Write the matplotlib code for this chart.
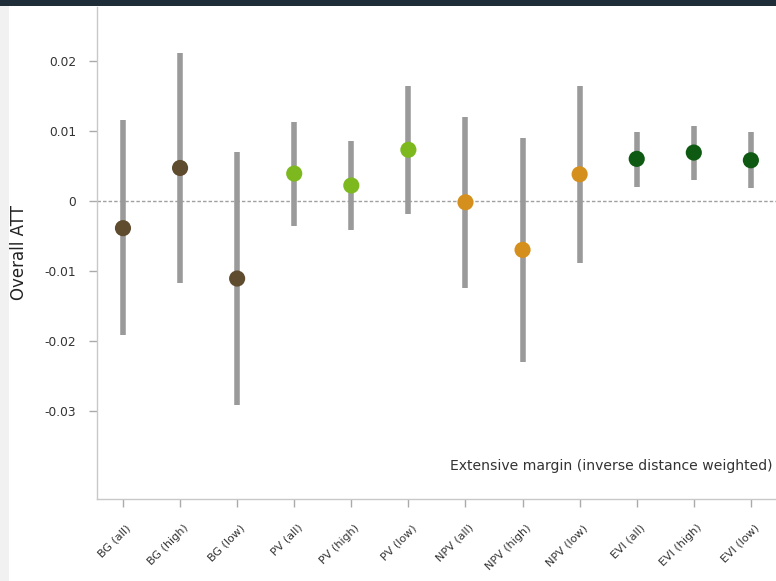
import matplotlib
matplotlib.use("Agg")
import matplotlib.pyplot as plt
import matplotlib.transforms as mtransforms
from matplotlib.patches import Rectangle

plt.rcParams["font.family"] = ["DejaVu Sans"]

categories = ["BG (all)", "BG (high)", "BG (low)",
              "PV (all)", "PV (high)", "PV (low)",
              "NPV (all)", "NPV (high)", "NPV (low)",
              "EVI (all)", "EVI (high)", "EVI (low)"]
estimates = [-0.0039, 0.0047, -0.0111,
             0.0039, 0.0022, 0.0073,
             -0.0002, -0.0070, 0.0038,
             0.0060, 0.0069, 0.0058]
ci_low = [-0.0191, -0.0117, -0.0291,
          -0.0036, -0.0041, -0.0019,
          -0.0125, -0.0230, -0.0089,
          0.0020, 0.0030, 0.0018]
ci_high = [0.0116, 0.0211, 0.0070,
           0.0113, 0.0086, 0.0164,
           0.0120, 0.0090, 0.0164,
           0.0099, 0.0107, 0.0099]
group_colors = {"BG": "#5f4c2f", "PV": "#7cb81e", "NPV": "#d58f1c", "EVI": "#0f5a12"}
yticks = [0.02, 0.01, 0, -0.01, -0.02, -0.03]
ytick_labels = ["0.02", "0.01", "0", "-0.01", "-0.02", "-0.03"]

W, H = 776, 581
fig = plt.figure(figsize=(W / 100, H / 100), dpi=100)
fig.patch.set_facecolor("white")
# decorative frame strips
fig.add_artist(Rectangle((0, 1 - 6 / H), 1, 6 / H, transform=fig.transFigure,
                         facecolor="#1e2d38", edgecolor="none", zorder=0))
fig.add_artist(Rectangle((0, 0), 9 / W, 1 - 6 / H, transform=fig.transFigure,
                         facecolor="#f1f1f1", edgecolor="none", zorder=0))

left, right, top, bottom = 97, 776, 7, 499
ax = fig.add_axes([left / W, 1 - bottom / H, (right - left) / W, (bottom - top) / H])

xs = list(range(1, len(categories) + 1))
colors = [group_colors[c.split(" ")[0]] for c in categories]

ax.axhline(0, color="#a0a0a0", linestyle=(0, (2.5, 1.5)), linewidth=1.0, zorder=1)
ax.vlines(xs, ci_low, ci_high, color="#9a9a9a", linewidth=4.0, zorder=2)
ax.scatter(xs, estimates, s=135, c=colors, zorder=3, edgecolors="none")

ax.set_xlim(0.545, 12.44)
ax.set_ylim(-0.0426, 0.0277)
ax.set_yticks(yticks)
ax.set_yticklabels(ytick_labels)
ax.set_xticks(xs)
ax.set_xticklabels(categories, rotation=45, ha="right", rotation_mode="anchor")

for s in ["top", "right"]:
    ax.spines[s].set_visible(False)
for s in ["left", "bottom"]:
    ax.spines[s].set_color("#c8c8c8")
    ax.spines[s].set_linewidth(1.0)
ax.tick_params(axis="both", colors="#aaaaaa", length=6, width=1, labelcolor="#333333")
ax.tick_params(axis="y", labelsize=8.8, pad=9)
ax.tick_params(axis="x", labelsize=8, pad=11)

shift = mtransforms.ScaledTranslation(3 / 100, 0, fig.dpi_scale_trans)
for lab in ax.get_xticklabels():
    lab.set_transform(lab.get_transform() + shift)

ax.set_ylabel("Overall ATT", fontsize=12, color="#222222", labelpad=12)
ax.text(0.995, 0.067, "Extensive margin (inverse distance weighted)", transform=ax.transAxes,
        ha="right", va="center", fontsize=10.1, color="#333333")

fig.savefig("out.png", dpi=100)
